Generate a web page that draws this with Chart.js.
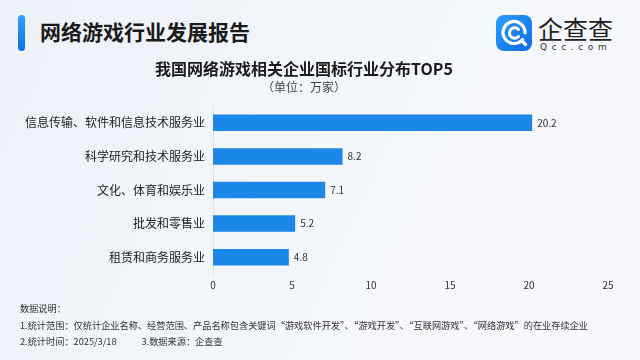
<!DOCTYPE html>
<html lang="zh-CN">
<head>
<meta charset="utf-8">
<title>网络游戏行业发展报告</title>
<script src="https://cdn.jsdelivr.net/npm/chart.js@4/dist/chart.umd.min.js"></script>
<style>
  html, body { margin: 0; padding: 0; }
  body {
    width: 640px; height: 360px; overflow: hidden; position: relative;
    font-family: "Noto Sans CJK SC", "Noto Sans", sans-serif;
    background: linear-gradient(115deg, #edf1f8 0%, #f3f6fb 45%, #f8f9fd 100%);
  }
  #chart { position: absolute; left: 0; top: 0; }
  .accent {
    position: absolute; left: 18px; top: 15px; width: 7px; height: 36px;
    border-radius: 4px; background: linear-gradient(#35a0ff, #0b6fe6);
  }
  .head {
    position: absolute; left: 40px; top: 21px; margin: 0;
    font-size: 21px; line-height: 21px; font-weight: 700; color: #1b1b1b;
  }
  .logo-icon { position: absolute; left: 496px; top: 15px; width: 36px; height: 36px; }
  .logo-name {
    position: absolute; left: 538px; top: 16px;
    font-size: 25px; line-height: 25px; color: #222;
  }
  .logo-url {
    position: absolute; left: 540px; top: 42px;
    font-family: "DejaVu Sans", sans-serif;
    font-size: 9px; line-height: 10px; color: #333; letter-spacing: 4.6px;
  }
  .notes {
    position: absolute; left: 20px; margin: 0;
    font-size: 9.2px; line-height: 10px; color: #333; white-space: nowrap;
  }
  .notes .gap { display: inline-block; width: 25px; }
</style>
</head>
<body>
<div class="accent"></div>
<h1 class="head">网络游戏行业发展报告</h1>

<svg class="logo-icon" viewBox="0 0 36 36">
  <defs>
    <linearGradient id="iconFill" x1="0" y1="0" x2="1" y2="1">
      <stop offset="0" stop-color="#2f9dff"/>
      <stop offset="1" stop-color="#0a6ce4"/>
    </linearGradient>
  </defs>
  <rect x="0" y="0" width="36" height="36" rx="8" fill="url(#iconFill)"/>
  <path d="M26.5 24.5 A11 11 0 1 1 29 18" fill="none" stroke="#fff" stroke-width="3.2" stroke-linecap="round"/>
  <path d="M26 26 L29.5 29.5" stroke="#fff" stroke-width="3.2" stroke-linecap="round"/>
  <path d="M22.5 14.5 A5.2 5.2 0 1 0 22.5 21.5" fill="none" stroke="#fff" stroke-width="3" stroke-linecap="round"/>
</svg>
<div class="logo-name">企查查</div>
<div class="logo-url">Qcc.com</div>

<canvas id="chart" width="640" height="360"></canvas>

<p class="notes" style="top:303px">数据说明：</p>
<p class="notes" style="top:320px">1.统计范围：仅统计企业名称、经营范围、产品名称包含关键词“游戏软件开发”、“游戏开发”、“互联网游戏”、“网络游戏”的在业存续企业</p>
<p class="notes" style="top:336px">2.统计时间：2025/3/18<span class="gap"></span>3.数据来源：企查查</p>

<script>
// Industries (GB/T classification) and number of related companies, in 10k
const categories = [
  '信息传输、软件和信息技术服务业',
  '科学研究和技术服务业',
  '文化、体育和娱乐业',
  '批发和零售业',
  '租赁和商务服务业'
];
const companyCounts = [20.2, 8.2, 7.1, 5.2, 4.8];
const axisTicks = [0, 5, 10, 15, 20, 25];

const chartTitle = '我国网络游戏相关企业国标行业分布TOP5';
const chartSubtitle = '（单位：万家）';

const FONT = '"Noto Sans CJK SC", "Noto Sans", sans-serif';

// Writes each bar's value just past its end
const valueLabels = {
  id: 'valueLabels',
  afterDatasetsDraw(chart) {
    const { ctx } = chart;
    const meta = chart.getDatasetMeta(0);
    ctx.save();
    ctx.font = '10px ' + FONT;
    ctx.fillStyle = '#333';
    ctx.textAlign = 'left';
    ctx.textBaseline = 'middle';
    meta.data.forEach((bar, i) => {
      ctx.fillText(companyCounts[i].toFixed(1), bar.x + 5, bar.y);
    });
    ctx.restore();
  }
};

new Chart(document.getElementById('chart'), {
  type: 'bar',
  data: {
    labels: categories,
    datasets: [{
      data: companyCounts,
      backgroundColor: '#1b88e7',
      borderWidth: 0,
      categoryPercentage: 1,
      barPercentage: 0.49
    }]
  },
  plugins: [valueLabels],
  options: {
    indexAxis: 'y',
    responsive: false,
    devicePixelRatio: 1,
    animation: false,
    layout: { padding: { left: 0, right: 32, top: 0, bottom: 63 } },
    plugins: {
      legend: { display: false },
      tooltip: { enabled: false },
      title: {
        display: true,
        text: chartTitle,
        color: '#1b1b1b',
        font: { family: FONT, size: 16, weight: 'bold', lineHeight: 1.2 },
        padding: { top: 59.4, bottom: 0 }
      },
      subtitle: {
        display: true,
        text: chartSubtitle,
        color: '#444',
        font: { family: FONT, size: 12, lineHeight: 1.2 },
        padding: { top: 1.2, bottom: 11.8 }
      }
    },
    scales: {
      x: {
        min: 0,
        max: 25,
        afterBuildTicks(scale) {
          scale.ticks = axisTicks.map(v => ({ value: v }));
        },
        grid: { display: false, drawTicks: false },
        border: { display: false },
        ticks: {
          color: '#333',
          padding: 5.5,
          font: { family: FONT, size: 10 }
        }
      },
      y: {
        afterFit(scale) { scale.width = 213; },
        grid: { display: false, drawTicks: false },
        border: { display: true, color: '#dfe3ea', width: 1 },
        ticks: {
          color: '#222',
          padding: 8,
          font: { family: FONT, size: 12 }
        }
      }
    }
  }
});
</script>
</body>
</html>
